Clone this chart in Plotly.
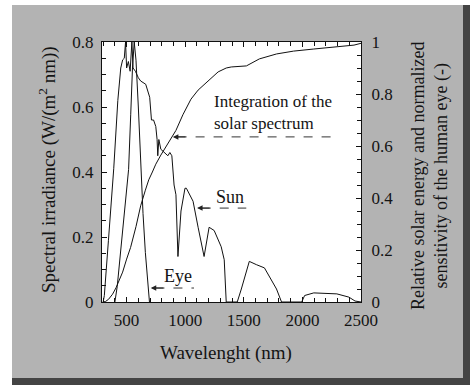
import plotly.graph_objects as go

# ---------------- data ----------------
sun_nm = [300, 310, 345, 390, 425, 450, 466, 480, 491, 500, 515, 530, 545, 555, 575,
          600, 620, 663, 697, 712, 730, 749, 760, 766, 775, 792, 852, 869, 886, 895,
          905, 921, 938, 964, 998, 1010, 1067, 1110, 1161, 1204, 1247, 1307, 1333,
          1350, 1444, 1479, 1547, 1607, 1676, 1779, 1822, 1994, 2019, 2097, 2294,
          2397, 2449, 2500]
sun_irr = [0.0, 0.02, 0.19, 0.41, 0.62, 0.72, 0.745, 0.75, 0.80, 0.72, 0.74, 0.71,
           0.80, 0.72, 0.71, 0.69, 0.68, 0.67, 0.63, 0.56, 0.56, 0.54, 0.50, 0.45,
           0.50, 0.47, 0.45, 0.46, 0.45, 0.41, 0.36, 0.33, 0.14, 0.28, 0.35, 0.35,
           0.31, 0.23, 0.14, 0.23, 0.22, 0.17, 0.13, 0.0, 0.0, 0.04, 0.125, 0.115,
           0.105, 0.04, 0.0, 0.0, 0.02, 0.028, 0.025, 0.015, 0.003, 0.0]

eye_nm = [400, 420, 450, 480, 500, 517, 535, 550, 565, 580, 600, 620, 640, 660, 680, 695]
eye_sens = [0.0, 0.06, 0.2, 0.34, 0.43, 0.51, 0.72, 0.9, 1.0, 0.93, 0.75, 0.51, 0.34,
            0.19, 0.06, 0.0]

int_nm = [300, 320, 345, 380, 410, 440, 466, 500, 534, 580, 620, 660, 689, 720, 749,
          792, 850, 921, 980, 1049, 1110, 1178, 1230, 1281, 1350, 1393, 1522, 1633,
          1779, 1925, 2097, 2208, 2354, 2440, 2500]
int_frac = [0.0, 0.002, 0.01, 0.03, 0.055, 0.085, 0.115, 0.165, 0.21, 0.29, 0.37, 0.43,
            0.47, 0.50, 0.53, 0.565, 0.61, 0.66, 0.72, 0.78, 0.815, 0.842, 0.865, 0.885,
            0.90, 0.904, 0.908, 0.935, 0.954, 0.965, 0.973, 0.977, 0.985, 0.988, 0.995]

x_ticks = [500, 1000, 1500, 2000, 2500]
x_tick_labels = ["500", "1000", "1500", "2000", "2500"]
yl_ticks = [0, 0.2, 0.4, 0.6, 0.8]
yl_tick_labels = ["0", "0.2", "0.4", "0.6", "0.8"]
yr_ticks = [0, 0.2, 0.4, 0.6, 0.8, 1]
yr_tick_labels = ["0", "0.2", "0.4", "0.6", "0.8", "1"]

# ---------------- figure ----------------
W, H = 474, 386
L, R, T, B = 102, 361, 42, 302
FONT = "Liberation Serif"
TXT = "#141414"
X_RANGE = [290, 2500]


def px(xp):
    return (xp - L) / (R - L)


def py(yp):
    return (B - yp) / (B - T)


line = dict(color="#111111", width=1)
fig = go.Figure()
fig.add_trace(go.Scatter(x=sun_nm, y=sun_irr, mode="lines", line=line,
                         yaxis="y", showlegend=False))
fig.add_trace(go.Scatter(x=eye_nm, y=eye_sens, mode="lines", line=line,
                         yaxis="y2", showlegend=False))
fig.add_trace(go.Scatter(x=int_nm, y=int_frac, mode="lines", line=line,
                         yaxis="y2", showlegend=False))
# invisible carrier so the top (mirror) axis with minor ticks is drawn
fig.add_trace(go.Scatter(x=int_nm, y=int_frac, mode="lines", opacity=0,
                         line=dict(width=0), xaxis="x2", yaxis="y2",
                         hoverinfo="skip", showlegend=False))

tickfont = dict(family=FONT, size=17, color=TXT)
minor_common = dict(ticks="inside", ticklen=4, tickcolor="#111", tickwidth=1)

fig.update_layout(
    width=W, height=H,
    margin=dict(l=L, r=W - R, t=T, b=H - B, pad=0, autoexpand=False),
    paper_bgcolor="white", plot_bgcolor="white",
    xaxis=dict(range=X_RANGE, tickvals=x_ticks, ticktext=x_tick_labels,
               ticks="inside", ticklen=5, tickcolor="#111", showline=True,
               linecolor="#111", linewidth=1, mirror=True, showgrid=False,
               zeroline=False, tickfont=tickfont, ticklabelstandoff=3,
               minor=dict(dtick=100, tick0=0, **minor_common)),
    xaxis2=dict(range=X_RANGE, overlaying="x", side="top", anchor="y",
                tickvals=x_ticks, ticks="inside", ticklen=5, tickcolor="#111",
                showticklabels=False, showline=False, showgrid=False, zeroline=False,
                minor=dict(dtick=100, tick0=0, **minor_common)),
    yaxis=dict(range=[0, 0.8], tickvals=yl_ticks, ticktext=yl_tick_labels,
               ticks="inside", ticklen=5, tickcolor="#111", showline=True,
               linecolor="#111", linewidth=1, showgrid=False, zeroline=False,
               tickfont=tickfont, ticklabelstandoff=4,
               minor=dict(dtick=0.05, tick0=0, **minor_common)),
    yaxis2=dict(range=[0, 1], tickvals=yr_ticks, ticktext=yr_tick_labels,
                overlaying="y", side="right",
                ticks="inside", ticklen=5, tickcolor="#111", showline=True,
                linecolor="#111", linewidth=1, showgrid=False, zeroline=False,
                tickfont=tickfont, ticklabelstandoff=6,
                minor=dict(dtick=0.05, tick0=0, **minor_common)),
)

# background: halftone grey panel with dark shadow edges, white plot area
shapes = [
    dict(type="rect", xref="paper", yref="paper", x0=px(12), x1=px(469),
         y0=py(384), y1=py(5), fillcolor="#b3b3b3", line=dict(width=0), layer="below"),
    dict(type="rect", xref="paper", yref="paper", x0=px(463), x1=px(470),
         y0=py(384), y1=py(5), fillcolor="#444444", line=dict(width=0), layer="below"),
    dict(type="rect", xref="paper", yref="paper", x0=px(12), x1=px(470),
         y0=py(385), y1=py(378), fillcolor="#444444", line=dict(width=0), layer="below"),
    dict(type="rect", xref="paper", yref="paper", x0=0, x1=1, y0=0, y1=1,
         fillcolor="white", line=dict(width=0), layer="below"),
]
# dashed arrow shafts
for x0, x1, yv in [(895, 2311, 0.508), (1101, 1521, 0.289), (706, 1075, 0.043)]:
    shapes.append(dict(type="line", xref="x", yref="y", x0=x0 + 40, x1=x1, y0=yv, y1=yv,
                       line=dict(color="#333", width=1, dash="dash")))
fig.update_layout(shapes=shapes)

ann = []
# arrowheads
for xh, yv in [(895, 0.508), (1101, 0.289), (706, 0.043)]:
    ann.append(dict(x=xh, y=yv, xref="x", yref="y", ax=xh + 120, ay=yv, axref="x",
                    ayref="y", text="", showarrow=True, arrowhead=2, arrowsize=1.1,
                    arrowwidth=1, arrowcolor="#222"))

f18 = dict(family=FONT, size=18, color=TXT)
ann += [
    dict(x=px(212), y=py(112), xref="paper", yref="paper", xanchor="left",
         yanchor="middle", align="left", text="Integration of the<br>solar spectrum",
         showarrow=False, font=dict(family=FONT, size=17, color=TXT)),
    dict(x=px(230), y=py(197), xref="paper", yref="paper", xanchor="center",
         yanchor="middle", text="Sun", showarrow=False, font=f18),
    dict(x=px(178), y=py(276), xref="paper", yref="paper", xanchor="center",
         yanchor="middle", text="Eye", showarrow=False, font=f18),
    dict(x=px(226), y=py(353), xref="paper", yref="paper", xanchor="center",
         yanchor="middle", text="Wavelenght (nm)", showarrow=False,
         font=dict(family=FONT, size=19, color=TXT)),
    dict(x=px(47), y=py(170), xref="paper", yref="paper", xanchor="center",
         yanchor="middle", textangle=-90,
         text="Spectral irradiance (W/(m<sup>2</sup> nm))", showarrow=False,
         font=dict(family=FONT, size=19, color=TXT)),
    dict(x=px(430), y=py(176), xref="paper", yref="paper", xanchor="center",
         yanchor="middle", textangle=-90,
         text="Relative solar energy and normalized<br>sensitivity of the human eye (-)",
         showarrow=False, font=dict(family=FONT, size=18, color=TXT)),
]
fig.update_layout(annotations=ann)

fig.write_html("out.html", config={"displayModeBar": False},
               post_script="document.body.style.margin='0px';"
                           "document.body.style.overflow='hidden';")
